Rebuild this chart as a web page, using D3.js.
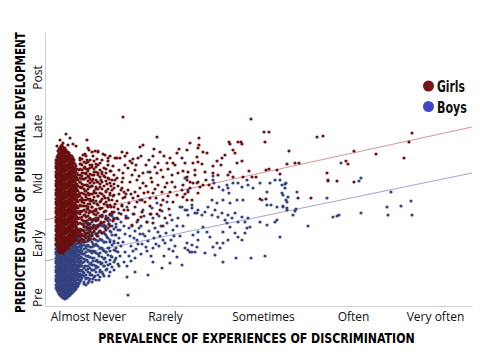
<!DOCTYPE html>
<html><head><meta charset="utf-8">
<script src="https://cdn.jsdelivr.net/npm/d3@7"></script>
<style>body{margin:0;background:#fff}svg{display:block}</style>
</head><body><svg id="c" width="480" height="355"></svg>
<script>
// ---- data (x: prevalence index, y: predicted stage index) ----
const xTickLabels = ["Almost Never","Rarely","Sometimes","Often","Very often"];
const xTickValues = [43,120,218,308,390];
const yTickLabels = ["Pre","Early","Mid","Late","Post"];
const yTickValues = [9,63,123,180,229];
const seriesNames = ["Girls","Boys"];
const girlsFit = [[0,86],[427,179]];
const boysFit = [[0,45],[427,133]];

// dense columns: [x, y1, y2, ...]
const girlsDense = [
[11,62,66,68,71,75,77,80,84,86,89,93,95,98,102,104,107,111,113,116,120,122,125,129,131,134,138,140,143,146],
[12,60,64,67,70,73,78,81,83,87,91,94,96,100,103,106,109,114,117,119,123,127,130,132,136,139,142,145,149],
[13,55,58,61,65,67,70,74,76,79,83,85,88,92,94,97,101,103,106,110,112,115,119,121,124,128,130,133,137,139,142,146,148,151,155],
[14,54,57,60,63,66,69,72,75,78,81,84,87,90,93,96,99,102,105,108,111,114,117,120,123,126,129,132,135,138,141,144,147,150,153,157],
[15,53,57,59,62,66,68,71,75,77,80,84,86,89,93,95,98,102,104,107,111,113,116,120,122,125,129,131,134,138,140,143,147,149,152,156,158],
[16,55,58,61,64,67,70,73,76,79,82,85,88,91,94,97,100,103,106,109,112,115,118,121,124,127,130,133,136,139,142,145,148,151,154,157,160],
[17,54,56,60,63,65,69,72,74,78,81,83,87,90,92,96,99,101,105,108,110,114,117,119,123,126,128,132,135,137,141,144,146,150,153,155,159,161],
[18,53,57,59,62,66,68,71,75,77,80,84,86,89,93,95,98,102,104,107,111,113,116,120,122,125,129,131,134,138,140,143,147,149,152,156,159],
[19,55,58,62,64,67,71,73,76,80,82,85,89,91,94,98,100,103,107,109,112,116,118,121,125,127,130,134,136,139,143,145,148,152,154,157],
[20,56,60,63,65,69,72,74,78,81,83,87,90,92,96,99,101,105,108,110,114,117,119,123,126,128,132,135,137,141,144,146,150,153,155,158],
[21,57,59,63,66,68,72,75,77,81,84,86,90,93,95,99,102,104,108,111,113,117,120,122,126,129,131,135,138,140,144,147,149,153,156],
[22,58,60,64,67,69,73,76,78,82,85,87,91,94,96,100,103,105,109,112,114,118,121,123,127,130,132,136,139,141,145,148,150,154],
[23,58,61,65,67,70,74,76,79,83,85,88,92,94,97,101,103,106,110,112,115,119,121,124,128,130,133,137,139,142,146,148,151,154],
[24,60,62,66,69,71,75,78,80,84,87,89,93,96,98,102,105,107,111,114,116,120,123,125,129,132,134,138,141,143,147,150,153],
[25,61,63,67,70,72,76,79,81,85,88,90,94,97,99,103,106,108,112,115,117,121,124,126,130,133,135,139,142,144,148,151],
[26,62,65,69,71,74,78,81,83,87,90,92,96,99,101,105,108,110,114,117,119,123,126,128,132,135,137,141,144,146,150],
[27,62,66,68,71,75,77,80,84,86,89,93,95,98,102,104,107,111,113,116,120,122,125,129,131,134,138,140,143,147,150],
[28,64,66,70,73,75,79,82,84,88,91,93,97,100,102,106,109,111,115,118,120,124,127,129,133,136,138,142,145,148],
[29,65,67,71,74,76,80,83,85,89,92,94,98,101,103,107,110,112,116,119,121,125,128,130,134,137,139,143,146],
[30,66,69,72,75,79,82,86,89,93,96,100,103,107,110,114,117,121,124,128,131,135,138,142],
[31,66,70,73,77,80,84,87,91,94,98,101,105,108,112,115,119,122,126,129,133,136,140],
[32,69,74,78,84,89,95,100,106,111,117,122,128,133,137],
[33,71,76,82,87,93,98,104,109,115,120,126,131],
[35,65,70,74,77,83,88,92,95,101,106,110,113,119,124,128,131,137,142,146],
[37,67,71,76,82,86,89,95,100,104,108,113,119,122,127,133,136,141,147],
[39,64,70,75,79,85,91,96,100,106,112,117,121,127,133,138,144],
[41,68,72,79,85,89,94,100,106,111,115,121,128,132,137,143,150],
[43,66,73,78,83,90,97,102,107,113,120,125,130,137,144],
[45,70,77,82,88,95,102,107,112,119,127,132,138,146],
[47,73,78,86,94,99,105,112,120,125,131,139],
[49,67,75,81,87,95,103,109,115,123,131,137,145],
[51,77,85,91,97,105,113,119,126,134,142],
[53,70,79,86,93,101,110,117,124,133,141],
[55,81,90,97,104,113,122,129,136],
[57,73,83,90,98,107,117,124,132,146],
[59,84,94,102,110,120,130,138],
[61,76,87,95,104,114,125,133],
[63,88,99,108,117,128,141],
[65,80,92,101,111,123,135],
[67,94,106,116,126],
[69,87,99,111,122,131]
];
const boysDense = [
[11,18,21,25,27,30,34,36,39,43,45,48,52,54,57,61],
[12,16,19,23,26,29,32,35,38,41,44,47,50,53,56,59,62],
[13,14,17,20,24,26,29,33,35,38,42,44,47,51,53,56,60,62],
[14,12,16,19,22,25,28,31,34,37,40,43,46,49,52,55,58,61],
[15,11,15,17,20,24,26,29,33,35,38,42,44,47,51,53,56,60,62],
[16,10,13,16,19,22,25,28,31,34,37,40,43,46,49,52,55,58,61],
[17,9,12,16,18,21,25,27,30,34,36,39,43,45,48,52,54,57,61,63],
[18,8,11,14,17,20,23,26,29,32,35,38,41,44,47,50,53,56,59,62],
[19,8,11,15,17,20,24,26,29,33,35,38,42,44,47,51,53,56,60,63],
[20,7,10,13,16,19,22,25,28,31,34,37,40,43,46,49,52,55,58,61,64],
[21,9,12,14,18,21,23,27,30,32,36,39,41,45,48,50,54,57,59,63,65],
[22,8,11,14,17,20,23,26,29,32,35,38,41,44,47,50,53,56,59,62,65],
[23,10,12,16,19,21,25,28,30,34,37,39,43,46,48,52,55,57,61,64,66],
[24,10,13,16,19,22,25,28,31,34,37,40,43,46,49,52,55,58,61,64],
[25,11,15,17,20,24,26,29,33,35,38,42,44,47,51,53,56,60,62,65],
[26,12,15,18,21,24,27,30,33,36,39,42,45,48,51,54,57,60,63,66],
[27,13,17,19,22,26,28,31,35,37,40,44,46,49,53,55,58,62,64,67],
[28,14,17,20,23,26,29,32,35,38,41,44,47,50,53,56,59,62,65,68],
[29,15,18,22,24,27,31,33,36,40,42,45,49,51,54,58,60,63,67,69],
[30,16,19,22,25,28,31,34,37,40,43,46,49,52,55,58,61,64,67,70],
[31,17,21,23,26,30,32,35,39,41,44,48,50,53,57,59,62,66,68,71],
[32,19,22,26,30,34,37,40,44,48,51,55,58,62,66,69,73],
[33,20,23,27,29,32,36,38,41,45,47,50,54,56,59,63,65,68,72,74],
[34,22,26,31,35,39,43,47,51,55,59,63,67,71,74],
[35,24,29,32,36,41,44,48,53,56,60,65,68,72,75],
[36,26,31,35,40,45,49,53,58,62,67,71,76],
[37,28,31,36,40,43,48,52,55,60,64,67,72,76],
[39,24,30,33,38,44,47,52,57,61,65,70,76,80],
[41,21,27,31,36,40,46,50,54,60,64,69,73,79,83],
[43,23,28,34,40,44,50,56,60,65,70,76,82],
[45,27,33,38,42,49,55,59,66,71,75,82],
[47,24,31,36,41,48,55,59,64,71,78,84],
[49,29,36,41,48,55,60,67,74,79,86],
[51,26,34,40,45,53,61,66,72,80,88],
[53,31,39,44,52,60,65,73,81,87],
[55,29,36,44,53,58,67,75,82],
[57,34,43,49,58,66,73,80,89],
[59,30,40,47,55,64,74,81],
[61,36,44,54,64,71,80,90],
[63,41,51,58,68,78,85],
[65,34,46,55,64,75,86],
[67,39,49,61,71,80,92],
[69,44,56,65,77,88],
[71,48,58,71,82],
[73,42,54,63,76,87]
];

const girlsNear = [
[34,64],[36,70],[35,76],[37,82],[34,88],[36,94],[35,100],[37,106],[34,112],[36,118],[35,124],[37,130],[34,136],[36,142],[35,148],
[39,66],[40,73],[41,79],[39,85],[40,91],[42,97],[39,103],[41,109],[40,115],[42,121],[39,127],[41,133],[40,139],[42,146],[40,152],
[44,68],[45,75],[43,81],[45,87],[44,93],[43,99],[45,105],[44,111],[43,117],[45,123],[44,129],[43,135],[45,141],[44,156],
[47,70],[48,78],[47,86],[49,92],[47,99],[48,106],[49,113],[47,120],[48,127],[49,134],[47,141],[48,150],
[51,72],[52,80],[53,88],[51,95],[52,102],[53,110],[51,117],[52,124],[53,131],[51,139],[52,147],[53,155],
[55,75],[56,84],[57,91],[55,98],[56,105],[57,112],[55,119],[56,126],[57,134],[55,143],[58,152],
[60,78],[61,87],[60,95],[62,101],[60,108],[61,115],[62,122],[60,129],[61,137],[63,145],
[64,82],[65,91],[66,99],[64,106],[65,113],[66,120],[64,127],[66,135],[65,150],
[68,85],[69,94],[70,102],[68,110],[69,118],[70,126],[68,140],
[72,88],[73,97],[72,105],[74,112],[73,120],[72,128],[74,136],[72,148],
[76,92],[77,100],[78,108],[76,116],[77,124],[78,133],[80,141],[79,96],[81,112],[80,150],
[21,172],[42,166],[18,163],[23,161],[43,158],[47,154],[50,155],[53,154],[38,151],[60,151],[63,148],[70,148],[75,148],
[15,166],[25,168],[28,162],[31,160],[12,160],[78,189],
[85,145],[91,141],[96,150],[104,146],[109,157],[119,150],[123,137],[116,136],[106,128],[94,130],[87,131],[101,120],
[110,117],[120,119],[127,124],[86,112],[93,110],[100,104],[111,108],[123,110],[79,114],[84,103],[92,104],[99,113],
[106,92],[116,101],[124,97],[89,92],[96,89],[108,83],[118,80]
];
const girlsFar = [
[112,169],[95,159],[98,161],[82,153],[77,154],[115,154],[108,150],[134,157],[132,153],[145,163],[88,147],[93,148],[87,143],
[101,141],[113,143],[110,139],[122,143],[128,143],[130,141],[140,143],[148,143],[125,148],[137,148],[152,149],
[83,138],[90,136],[98,133],[105,134],[112,133],[118,129],[127,131],[133,133],[142,129],[150,131],
[78,128],[85,124],[92,126],[98,123],[107,124],[113,121],[122,123],[130,119],[138,121],[145,124],
[77,118],[83,116],[90,114],[95,118],[103,114],[108,113],[117,114],[125,114],[132,111],[143,114],[153,113],
[80,109],[88,108],[97,106],[105,108],[118,106],[128,104],[147,106],
[77,101],[83,96],[90,99],[97,94],[105,100],[112,92],[81,88],[93,86],[102,84],[115,96],[87,81],[120,88],
[206,187],[219,174],[224,174],[220,164],[272,169],[278,170],[244,155],[154,168],[154,161],[153,158],
[185,162],[184,164],[193,164],[196,164],[197,162],[142,156],[158,154],[162,153],[172,145],[177,148],[188,156],[190,153],[180,151],
[153,144],[157,142],[168,140],[168,133],[176,141],[192,143],[197,145],[183,131],[185,134],[188,129],[173,131],[198,129],
[138,135],[143,134],[150,136],[160,134],[161,126],[142,126],[148,123],[137,116],[140,112],[145,118],[138,109],[142,106],
[153,124],[155,119],[158,121],[164,121],[167,118],[207,129],[211,129],[221,136],[224,137],[232,136],[235,132],
[242,142],[250,143],[254,143],[204,135],[283,126],[215,107],[221,107],[253,108],[266,108],
[309,155],[301,145],[303,142],[331,152],[367,173],[364,164],[359,148],[282,133],[292,125],[309,124]
];
const boysNear = [
[39,22],[41,28],[38,34],[40,40],[42,46],[39,52],[41,58],[38,64],[40,70],[42,76],[39,82],
[44,25],[45,31],[43,37],[46,43],[44,49],[45,55],[43,61],[46,67],[44,73],[45,79],[43,86],
[48,27],[47,36],[48,45],[47,53],[48,62],[47,71],[48,80],
[50,30],[51,38],[52,46],[50,54],[51,62],[52,70],[50,78],[51,86],
[54,26],[55,34],[56,42],[54,50],[55,58],[56,66],[54,74],[55,82],[57,90],
[58,32],[59,40],[60,48],[58,56],[59,64],[60,72],[58,80],[61,88],[62,37],[61,54],[62,69],
[64,30],[65,42],[66,50],[64,58],[65,66],[66,74],[64,82],[67,90],
[69,36],[70,46],[71,55],[69,63],[70,71],[71,79],[69,87],
[74,40],[75,50],[76,60],[74,68],[75,76],[76,84],[74,93],
[79,44],[80,54],[78,64],[80,72],[79,80],[81,90],
[84,50],[86,60],[85,70],[87,80],[83,88],
[90,48],[91,57],[92,66],[90,75],[92,84],
[96,52],[97,62],[98,72],[96,80],[99,90],
[102,55],[103,65],[104,75],[102,84],
[108,58],[109,68],[110,78],[108,88],
[114,60],[115,70],[116,80],[114,90],
[120,63],[121,73],[122,83],
[126,66],[128,76],[127,86],
[130,60],[135,70],[138,80],[133,88],[128,55],
[82,40],[86,45],[88,55],[93,62],[95,72],[89,68],[94,78],[100,70],[101,59],[106,50],[111,62],[113,74],
[118,66],[124,57],[119,50],[129,70],[132,80],[125,91],[117,95],[105,92],[98,96],[88,92],[84,78]
];
const boysFar = [
[82,29],[90,34],[103,31],[117,38],[108,44],[125,43],[137,41],[132,49],[143,56],[147,61],[150,54],[153,66],[83,11],
[103,134],[140,128],[143,116],[152,123],[95,106],[112,103],[82,99],[107,98],
[122,104],[135,99],[142,96],[147,101],[152,93],
[168,130],[168,126],[169,123],[174,119],[178,116],[182,121],[183,118],[184,113],[188,123],[193,123],[197,119],
[202,126],[203,121],[208,118],[215,123],[222,114],[225,123],[230,126],[235,126],[237,121],[241,123],[240,118],
[241,106],[243,109],[252,114],[217,106],[222,101],[226,101],[232,99],[238,99],[242,96],[248,91],[250,95],[263,80],
[235,69],[215,84],[222,81],[230,84],[232,86],[206,48],[220,50],[191,48],[178,44],[170,51],[160,53],[152,59],[147,54],
[202,78],[205,79],[200,73],[190,73],[193,69],[197,66],[185,79],[182,83],[178,74],[183,66],[178,63],[172,63],[168,59],
[175,58],[165,69],[162,74],[158,79],[153,74],[148,71],[142,63],[140,58],[145,54],
[137,99],[140,96],[143,91],[147,98],[150,93],[153,96],[157,91],[160,94],[163,99],[167,91],[170,96],[173,89],[177,93],
[180,86],[183,91],[187,88],[190,93],[193,84],[197,89],[200,84],[203,88],
[172,103],[178,106],[185,103],[192,106],[198,106],[167,106],
[296,143],[283,125],[314,125],[316,128],[346,114],[366,105],[342,99],[356,100],[343,91],[367,91],[316,93],
[288,89],[292,90],[294,91],[251,97],[242,104],[238,100],[242,98],[240,122],[237,113],[238,111],[282,108]
];

// ---- drawing ----
const svg = d3.select("#c");
svg.append("rect").attr("width",480).attr("height",355).attr("fill","#fff");
const x = d3.scaleLinear().domain([0,427]).range([45,472]);
const y = d3.scaleLinear().domain([0,274]).range([306,32]);
const color = d3.scaleOrdinal().domain(seriesNames).range(["#6b1010","#34437f"]);
const legendColor = d3.scaleOrdinal().domain(seriesNames).range(["#7a1515","#3d49c0"]);
const lineColor = d3.scaleOrdinal().domain(seriesNames).range(["#d49a9a","#a3a9d3"]);

function expand(cols){const out=[];cols.forEach(c=>{for(let i=1;i<c.length;i++)out.push([c[0],c[i]]);});return out;}

const xAxis = d3.axisBottom(x).tickValues(xTickValues).tickFormat((d,i)=>xTickLabels[i]).tickSize(0).tickSizeOuter(0).tickPadding(6);
const gx = svg.append("g").attr("transform","translate(0,306)").call(xAxis);
gx.select(".domain").attr("stroke","#cfcfcf");
gx.selectAll("text").attr("font-family","'Open Sans',sans-serif").attr("font-size",12).attr("fill","#111");

const yAxis = d3.axisLeft(y).tickValues(yTickValues).tickFormat((d,i)=>yTickLabels[i]).tickSize(0).tickSizeOuter(0);
const gy = svg.append("g").attr("transform","translate(45,0)").call(yAxis);
gy.select(".domain").attr("stroke","#cfcfcf");
gy.selectAll("text").attr("x",null).attr("dy",null).attr("text-anchor","middle")
  .attr("transform","translate(-3.5,0) rotate(-90)")
  .attr("font-family","'Open Sans',sans-serif").attr("font-size",12).attr("fill","#111");

const line = d3.line().x(d=>x(d[0])).y(d=>y(d[1]));
[[girlsFit,"Girls"],[boysFit,"Boys"]].forEach(([f,n])=>{
  svg.append("path").attr("d",line(f)).attr("fill","none").attr("stroke",lineColor(n)).attr("stroke-width",1.2);
});

function dots(data,name){
  svg.append("g").selectAll("circle").data(data).join("circle")
    .attr("cx",d=>x(d[0])).attr("cy",d=>y(d[1])).attr("r",1.6).attr("fill",color(name));
}
dots(expand(boysDense),"Boys");
dots(boysNear,"Boys");
dots(boysFar,"Boys");
dots(expand(girlsDense),"Girls");
dots(girlsNear,"Girls");
dots(girlsFar,"Girls");

// titles: drawn at natural size, then squeezed horizontally to the reference width
const tf = "'Liberation Sans Narrow','DejaVu Sans Condensed','Open Sans',sans-serif";
function fitText(g, txt, size, width, base){
  const t = g.append("text").attr("text-anchor","middle").attr("font-family",tf)
    .attr("font-weight","bold").attr("font-size",size).attr("fill","#000").text(txt);
  const w = t.node().getComputedTextLength();
  t.attr("transform", base + ` scale(${width/w},1)`);
  return t;
}
fitText(svg,"PREVALENCE OF EXPERIENCES OF DISCRIMINATION",14,317,"translate(256.5,343)");
fitText(svg,"PREDICTED STAGE OF PUBERTAL DEVELOPMENT",14,281,"translate(25,172.5) rotate(-90)");

// legend
const lg = svg.append("g");
seriesNames.forEach((n,i)=>{
  const cy = 86 + i*20.5;
  lg.append("circle").attr("cx",428.5).attr("cy",cy).attr("r",5.5).attr("fill",legendColor(n));
  const t = lg.append("text").attr("font-family",tf).attr("font-weight","bold")
    .attr("font-size",16).attr("fill","#111").text(n);
  const w = t.node().getComputedTextLength();
  t.attr("transform",`translate(437,${cy+6}) scale(${(n==="Girls"?28:30)/w},1)`);
});
</script></body></html>
